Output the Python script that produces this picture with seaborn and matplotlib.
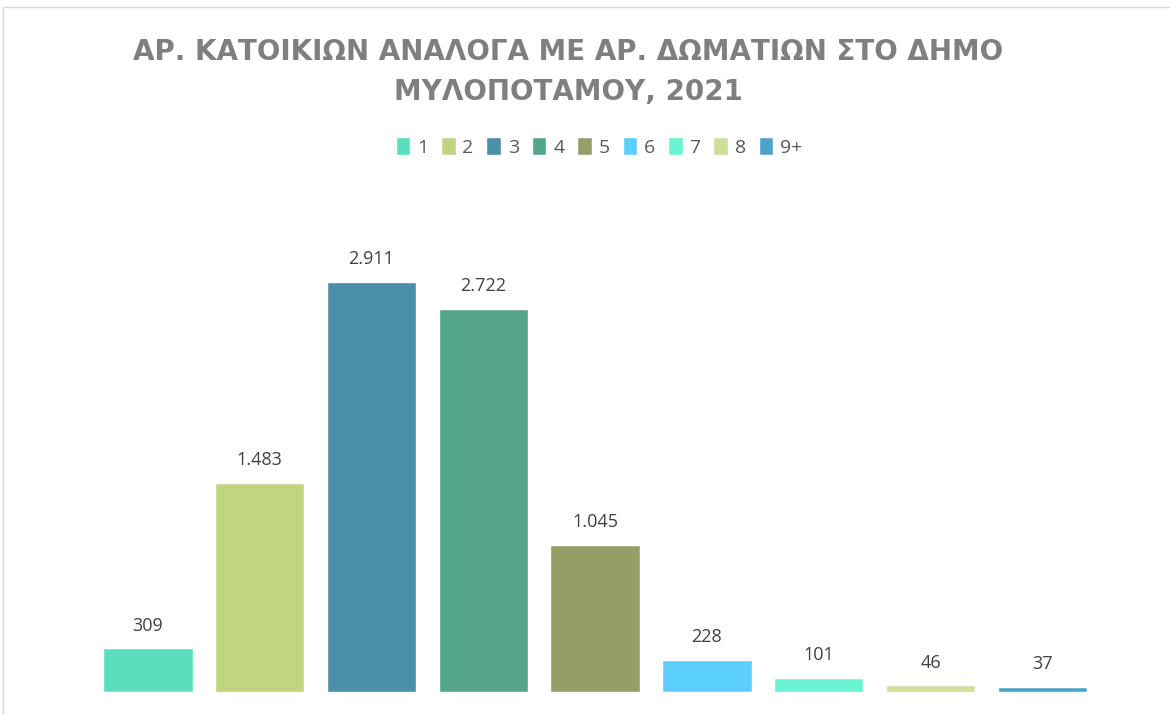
import matplotlib
matplotlib.use("Agg")
import matplotlib.pyplot as plt
import seaborn as sns
import pandas as pd
from matplotlib.patches import Rectangle

# rooms per dwelling vs number of dwellings
rooms = ["1", "2", "3", "4", "5", "6", "7", "8", "9+"]
dwellings = [309, 1483, 2911, 2722, 1045, 228, 101, 46, 37]
colors = ["#59DFBD", "#C1D580", "#4B8FA8", "#54A58C", "#949F66",
          "#5BD0FD", "#6BF4D3", "#CDDF98", "#4BA3C7"]

df = pd.DataFrame({"rooms": rooms, "dwellings": dwellings})

sns.set_style("white")
plt.rcParams["font.family"] = ["Open Sans", "DejaVu Sans"]

fig = plt.figure(figsize=(11.7, 7.15), dpi=100)
ax = fig.add_axes([0.0786, 0.0322, 0.86, 0.6895])

sns.barplot(data=df, x="rooms", y="dwellings", hue="rooms", palette=colors,
            saturation=1, dodge=False, width=0.8, legend=True, ax=ax)

for cont in ax.containers:
    ax.bar_label(cont, labels=[f"{int(v):,}".replace(",", ".") for v in cont.datavalues],
                 padding=10, fontsize=13, color="#404040")

ax.set_ylim(0, 3500)
ax.set_xlim(-0.5, len(rooms) - 0.5)
ax.set_xlabel("")
ax.set_ylabel("")
ax.set_xticks([])
ax.set_yticks([])
sns.despine(ax=ax, left=True, bottom=True)

handles, labels = ax.get_legend_handles_labels()
ax.get_legend().remove()
fig.legend(handles, labels, loc="center", bbox_to_anchor=(599 / 1170, 1 - 147 / 715),
           ncol=9, frameon=False, fontsize=14, handlelength=0.75, handleheight=1.0,
           handletextpad=0.35, columnspacing=0.66, labelcolor="#595959")

fig.text(568 / 1170, 1 - 72 / 715,
         "ΑΡ. ΚΑΤΟΙΚΙΩΝ ΑΝΑΛΟΓΑ ΜΕ ΑΡ. ΔΩΜΑΤΙΩΝ ΣΤΟ ΔΗΜΟ\nΜΥΛΟΠΟΤΑΜΟΥ, 2021",
         ha="center", va="center", fontsize=20, fontweight="bold", color="#7F7F7F",
         family="DejaVu Sans", linespacing=1.55)

# chart frame, cropped at right and bottom
fig.patches.append(Rectangle((3 / 1170, -0.1), 1.2, 1 - 7 / 715 + 0.1,
                             transform=fig.transFigure, fill=False,
                             edgecolor="#D9D9D9", linewidth=1))

fig.savefig("out.png", dpi=100)
